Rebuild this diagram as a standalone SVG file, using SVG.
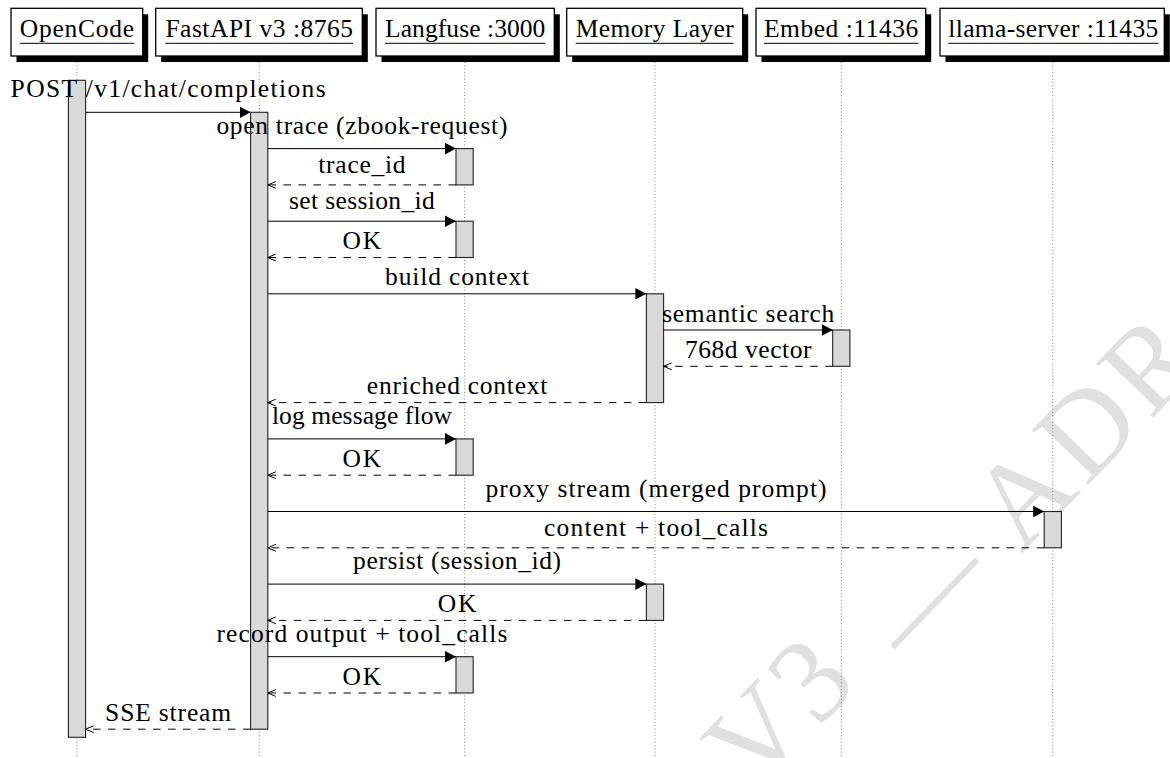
<svg xmlns="http://www.w3.org/2000/svg" width="1170" height="758" viewBox="0 0 1170 758">
<defs>
<marker id="tri" markerUnits="userSpaceOnUse" markerWidth="12" markerHeight="12" refX="11" refY="6" orient="auto"><path d="M0,0.2 L11,6 L0,11.8 z" fill="#000"/></marker>
<marker id="open" markerUnits="userSpaceOnUse" markerWidth="11" markerHeight="10" refX="9.5" refY="5" orient="auto"><path d="M1.5,1.6 L9.5,5 L1.5,8.4" fill="none" stroke="#000" stroke-width="1"/></marker>
</defs>
<style>
.box{fill:#fff;stroke:#000;stroke-width:1.3}
.shadow{fill:#000}
.hd{font-family:"Liberation Serif","Times New Roman",serif;font-size:25.5px;fill:#000;text-anchor:middle}
.ul{stroke:#000;stroke-width:1}
.life{stroke:#808080;stroke-width:1;stroke-dasharray:1 2.3}
.act{fill:#d9d9d9;stroke:#222;stroke-width:1.1}
.call{stroke:#000;stroke-width:1;fill:none;marker-end:url(#tri)}
.ret{stroke:#000;stroke-width:1;fill:none;stroke-dasharray:7.5 7.5;marker-end:url(#open)}
.lbl{font-family:"Liberation Serif","Times New Roman",serif;font-size:25.5px;fill:#000;text-anchor:middle}
.wm{font-family:"Liberation Serif","Times New Roman",serif;font-size:120px;fill:#e0e0e0}
</style>
<rect width="1170" height="758" fill="#fff"/>
<text class="wm" transform="translate(780,804) rotate(-46)"><tspan x="-10" y="-25" letter-spacing="4">V3</tspan><tspan x="192" y="0" letter-spacing="6">— ADR</tspan></text>

<g id="opencode">
<line class="life" x1="77" y1="62" x2="77" y2="758"/>
<rect class="shadow" x="16.5" y="14.3" width="131.7" height="47.7"/>
<rect class="box" x="11" y="8.3" width="131.7" height="47.7"/>
<text class="hd" x="77" y="37" textLength="114.3">OpenCode</text>
<line class="ul" x1="19.8" y1="43.3" x2="134.2" y2="43.3"/>
<rect class="act" x="68.4" y="80.3" width="17.2" height="657"/>
</g>

<g id="fastapi">
<line class="life" x1="259.2" y1="62" x2="259.2" y2="758"/>
<rect class="shadow" x="161.2" y="14.3" width="206.6" height="47.7"/>
<rect class="box" x="155.7" y="8.3" width="206.6" height="47.7"/>
<text class="hd" x="259.2" y="37" textLength="187.6">FastAPI v3 :8765</text>
<line class="ul" x1="165.4" y1="43.3" x2="353" y2="43.3"/>
<rect class="act" x="250.6" y="112.3" width="17.2" height="616.9"/>
</g>

<g id="langfuse">
<line class="life" x1="464.6" y1="62" x2="464.6" y2="758"/>
<rect class="shadow" x="381.5" y="14.3" width="178.3" height="47.7"/>
<rect class="box" x="376" y="8.3" width="178.3" height="47.7"/>
<text class="hd" x="465.2" y="37" textLength="160.3">Langfuse :3000</text>
<line class="ul" x1="385" y1="43.3" x2="545.3" y2="43.3"/>
<rect class="act" x="456" y="148.6" width="17.2" height="36.3"/>
<rect class="act" x="456" y="221.2" width="17.2" height="36.3"/>
<rect class="act" x="456" y="438.9" width="17.2" height="36.3"/>
<rect class="act" x="456" y="656.7" width="17.2" height="36.3"/>
</g>

<g id="memory">
<line class="life" x1="655" y1="62" x2="655" y2="758"/>
<rect class="shadow" x="572.2" y="14.3" width="176" height="47.7"/>
<rect class="box" x="566.7" y="8.3" width="176" height="47.7"/>
<text class="hd" x="654.7" y="37" textLength="158">Memory Layer</text>
<line class="ul" x1="575.7" y1="43.3" x2="733.7" y2="43.3"/>
<rect class="act" x="646.4" y="293.8" width="17.2" height="108.8"/>
<rect class="act" x="646.4" y="584.1" width="17.2" height="36.3"/>
</g>

<g id="embed">
<line class="life" x1="841.3" y1="62" x2="841.3" y2="758"/>
<rect class="shadow" x="761.5" y="14.3" width="169.7" height="47.7"/>
<rect class="box" x="756" y="8.3" width="169.7" height="47.7"/>
<text class="hd" x="841.1" y="37" textLength="154.3">Embed :11436</text>
<line class="ul" x1="764" y1="43.3" x2="918.3" y2="43.3"/>
<rect class="act" x="832.7" y="330" width="17.2" height="36.3"/>
</g>

<g id="llama">
<line class="life" x1="1052.8" y1="62" x2="1052.8" y2="758"/>
<rect class="shadow" x="945.5" y="14.3" width="224.3" height="47.7"/>
<rect class="box" x="940" y="8.3" width="224.3" height="47.7"/>
<text class="hd" x="1053.3" y="37" textLength="210">llama-server :11435</text>
<line class="ul" x1="948.3" y1="43.3" x2="1158.3" y2="43.3"/>
<rect class="act" x="1044.2" y="511.5" width="17.2" height="36.3"/>
</g>

<g id="connectors">
<path class="call" d="M85.6,112.3 H250.6"/>
<text class="lbl" x="168.1" y="97" textLength="315">POST /v1/chat/completions</text>
<path class="call" d="M267.8,148.6 H456"/>
<text class="lbl" x="361.9" y="134" textLength="291">open trace (zbook-request)</text>
<path class="ret" d="M456,184.9 H267.8"/>
<text class="lbl" x="361.9" y="173.3" textLength="87.2">trace_id</text>
<path class="call" d="M267.8,221.2 H456"/>
<text class="lbl" x="361.9" y="209" textLength="145.8">set session_id</text>
<path class="ret" d="M456,257.5 H267.8"/>
<text class="lbl" x="361.9" y="249" textLength="38.7">OK</text>
<path class="call" d="M267.8,293.8 H646.4"/>
<text class="lbl" x="457.1" y="285.3" textLength="144">build context</text>
<path class="call" d="M663.6,330 H832.7"/>
<text class="lbl" x="748.2" y="321.5" textLength="172">semantic search</text>
<path class="ret" d="M832.7,366.3 H663.6"/>
<text class="lbl" x="748.2" y="357.8" textLength="126.6">768d vector</text>
<path class="ret" d="M646.4,402.6 H267.8"/>
<text class="lbl" x="457.1" y="394" textLength="180.6">enriched context</text>
<path class="call" d="M267.8,438.9 H456"/>
<text class="lbl" x="361.9" y="424.2" textLength="180">log message flow</text>
<path class="ret" d="M456,475.2 H267.8"/>
<text class="lbl" x="361.9" y="466.7" textLength="38.7">OK</text>
<path class="call" d="M267.8,511.5 H1044.2"/>
<text class="lbl" x="656" y="496.8" textLength="341">proxy stream (merged prompt)</text>
<path class="ret" d="M1044.2,547.8 H267.8"/>
<text class="lbl" x="656" y="536.2" textLength="224">content + tool_calls</text>
<path class="call" d="M267.8,584.1 H646.4"/>
<text class="lbl" x="457.1" y="569.4" textLength="208">persist (session_id)</text>
<path class="ret" d="M646.4,620.4 H267.8"/>
<text class="lbl" x="457.1" y="611.9" textLength="38.7">OK</text>
<path class="call" d="M267.8,656.7 H456"/>
<text class="lbl" x="361.9" y="642" textLength="291">record output + tool_calls</text>
<path class="ret" d="M456,693 H267.8"/>
<text class="lbl" x="361.9" y="684.5" textLength="38.7">OK</text>
<path class="ret" d="M250.6,729.2 H85.6"/>
<text class="lbl" x="168.1" y="720.7" textLength="126">SSE stream</text>
</g>
</svg>
